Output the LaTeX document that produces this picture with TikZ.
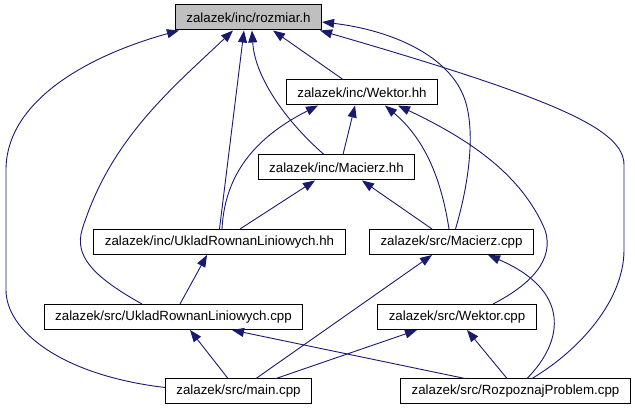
\documentclass[tikz,border=0pt]{standalone}
\usepackage{fontspec}
\setmainfont{Liberation Sans}
\usepackage{xcolor}
\usepackage{tikz}
\usetikzlibrary{arrows.meta}
\definecolor{edgeblue}{HTML}{191970}
\definecolor{rootgrey}{HTML}{BFBFBF}
\tikzstyle{file} = [rectangle, draw=black, fill=white, line width=1pt, minimum height=25pt, inner xsep=11pt, inner ysep=0pt, font=\fontsize{13.3}{16}\selectfont]
\tikzstyle{root} = [file, fill=rootgrey]
\tikzstyle{dep} = [line width=0.9pt, color=edgeblue, -{Triangle[length=12pt, width=9pt]}]

\begin{document}
\begin{tikzpicture}[x=1pt, y=-1pt]
\useasboundingbox (0,0) rectangle (635,411);

\node (rozmiar) [root] at (248.5,17.5) {zalazek/inc/rozmiar.h};
\node (wektorhh) [file] at (362,92.5) {zalazek/inc/Wektor.hh};
\node (macierzhh) [file] at (336.5,167.5) {zalazek/inc/Macierz.hh};
\node (ukladhh) [file] at (219.5,242) {zalazek/inc/UkladRownanLiniowych.hh};
\node (macierzcpp) [file] at (451.5,242) {zalazek/src/Macierz.cpp};
\node (ukladcpp) [file] at (173.5,317) {zalazek/src/UkladRownanLiniowych.cpp};
\node (wektorcpp) [file] at (457,317) {zalazek/src/Wektor.cpp};
\node (maincpp) [file] at (238.5,391.5) {zalazek/src/main.cpp};
\node (rozpoznaj) [file] at (515.5,391.5) {zalazek/src/RozpoznajProblem.cpp};

% rozmiar.h
\draw[dep] ([yshift=4pt]maincpp.west) .. controls (60,375) and (6,330) .. (6,290) -- (6,170) .. controls (6,100) and (90,55) .. ([xshift=4pt]rozmiar.south west);
\draw[dep] ([xshift=-31.5pt]ukladcpp.north) .. controls (90,275) and (75,255) .. (82,230) .. controls (110,140) and (170,90) .. ([xshift=-15.5pt]rozmiar.south);
\draw[dep] (ukladhh.north) -- ([xshift=-4.5pt]rozmiar.south);
\draw[dep] ([xshift=-12.5pt]macierzhh.north) .. controls (290,125) and (255,80) .. ([xshift=3.5pt]rozmiar.south);
\draw[dep] ([xshift=-19pt]wektorhh.north) -- ([xshift=24.5pt]rozmiar.south);
\draw[dep] ([xshift=4pt]macierzcpp.north) .. controls (470,180) and (475,130) .. (465,100) .. controls (450,55) and (390,30) .. ([yshift=-4.5pt]rozmiar.east);
\draw[dep] ([xshift=16.5pt]rozpoznaj.north) .. controls (580,350) and (624,300) .. (624,250) -- (624,165) .. controls (624,130) and (560,100) .. ([xshift=-2pt]rozmiar.south east);

% Wektor.hh
\draw[dep] ([xshift=2.5pt]ukladhh.north) .. controls (225,170) and (260,135) .. ([xshift=-44pt]wektorhh.south);
\draw[dep] ([xshift=6.5pt]macierzhh.north) -- ([xshift=-7pt]wektorhh.south);
\draw[dep] ([xshift=-2.5pt]macierzcpp.north) .. controls (440,170) and (420,135) .. ([xshift=23pt]wektorhh.south);
\draw[dep] ([xshift=36pt]wektorcpp.north) .. controls (530,285) and (555,260) .. (545,230) .. controls (520,170) and (460,135) .. ([xshift=36pt]wektorhh.south);

% Macierz.hh
\draw[dep] ([xshift=-19.5pt]macierzcpp.north) -- ([xshift=25.5pt]macierzhh.south);
\draw[dep] ([xshift=20.5pt]ukladhh.north) -- ([xshift=-21.5pt]macierzhh.south);

% UkladRownanLiniowych.hh
\draw[dep] ([xshift=6.5pt]ukladcpp.north) -- ([xshift=-12.5pt]ukladhh.south);

% Macierz.cpp
\draw[dep] ([xshift=17.5pt]maincpp.north) -- ([xshift=-19.5pt]macierzcpp.south);
\draw[dep] ([xshift=11.5pt]rozpoznaj.north) .. controls (565,340) and (570,290) .. ([xshift=36.5pt]macierzcpp.south);

% UkladRownanLiniowych.cpp
\draw[dep] ([xshift=-10.5pt]maincpp.north) -- ([xshift=16.5pt]ukladcpp.south);
\draw[dep] ([xshift=-50.5pt]rozpoznaj.north) -- ([xshift=58.5pt]ukladcpp.south);

% Wektor.cpp
\draw[dep] ([xshift=37.5pt]maincpp.north) -- ([xshift=-40pt]wektorcpp.south);
\draw[dep] ([xshift=-8.5pt]rozpoznaj.north) -- ([xshift=10pt]wektorcpp.south);

\end{tikzpicture}
\end{document}
